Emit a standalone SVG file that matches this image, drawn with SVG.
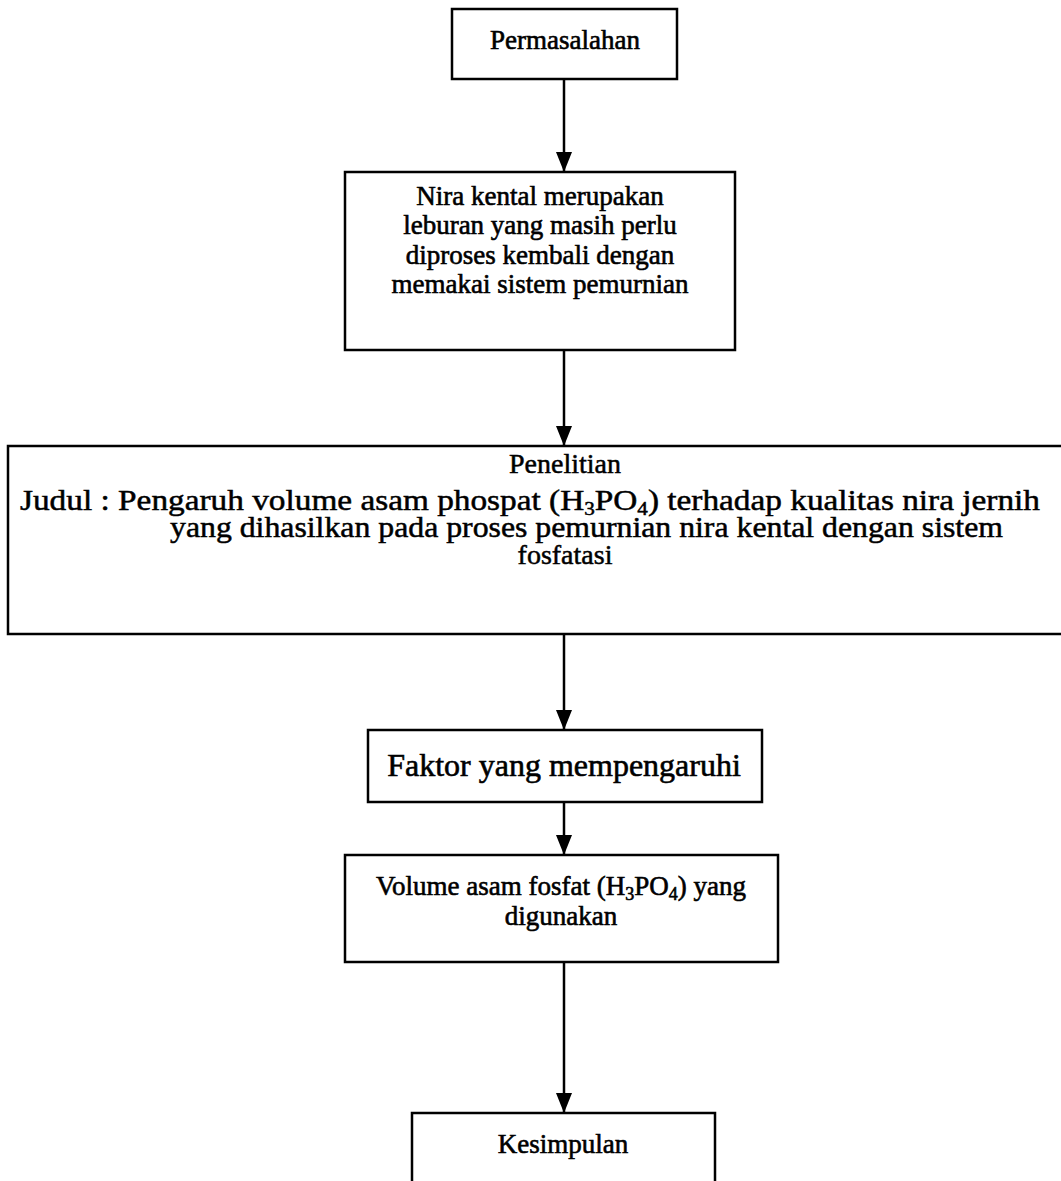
<svg xmlns="http://www.w3.org/2000/svg" width="1061" height="1181" viewBox="0 0 1061 1181">
<style>
.box{fill:#fff;stroke:#000;stroke-width:2.5}
.t{font-family:"Liberation Serif","Times New Roman",serif;font-size:27px;fill:#000;text-anchor:middle;stroke:#000;stroke-width:0.6}
.s{font-family:"Liberation Serif","Times New Roman",serif;font-size:28px;fill:#000;stroke:#000;stroke-width:0.5}
.w{font-size:30px}
.big{font-size:32px}
.sub{font-size:19px}
.c{stroke:#000;stroke-width:2.5;fill:none}
</style>
<defs>
<marker id="ah" markerWidth="20" markerHeight="16" refX="20" refY="8" orient="auto" markerUnits="userSpaceOnUse" viewBox="0 0 20 16">
<path d="M0,0 L20,8 L0,16 Z" fill="#000"/>
</marker>
</defs>
<rect width="1061" height="1181" fill="#fff"/>
<g id="connectors">
<line class="c" x1="564" y1="79" x2="564" y2="172" marker-end="url(#ah)"/>
<line class="c" x1="564" y1="350" x2="564" y2="446" marker-end="url(#ah)"/>
<line class="c" x1="564" y1="634" x2="564" y2="730" marker-end="url(#ah)"/>
<line class="c" x1="564" y1="802" x2="564" y2="855" marker-end="url(#ah)"/>
<line class="c" x1="564" y1="962" x2="564" y2="1113" marker-end="url(#ah)"/>
</g>
<g id="n1">
<rect class="box" x="452" y="9" width="225" height="70"/>
<text class="t" x="565" y="49">Permasalahan</text>
</g>
<g id="n2">
<rect class="box" x="345" y="172" width="390" height="178"/>
<text class="t" x="540" y="205">Nira kental merupakan</text>
<text class="t" x="540" y="234">leburan yang masih perlu</text>
<text class="t" x="540" y="264">diproses kembali dengan</text>
<text class="t" x="540" y="293">memakai sistem pemurnian</text>
</g>
<g id="n3">
<rect class="box" x="8" y="446" width="1070" height="188"/>
<text class="s" x="565" y="473" text-anchor="middle">Penelitian</text>
<text class="s w" x="20" y="510" textLength="1020" lengthAdjust="spacingAndGlyphs">Judul : Pengaruh volume asam phospat (H<tspan class="sub" dy="5">3</tspan><tspan dy="-5">PO</tspan><tspan class="sub" dy="5">4</tspan><tspan dy="-5">) terhadap kualitas nira jernih</tspan></text>
<text class="s w" x="170" y="537" textLength="833" lengthAdjust="spacingAndGlyphs">yang dihasilkan pada proses pemurnian nira kental dengan sistem</text>
<text class="s" x="565" y="564" text-anchor="middle">fosfatasi</text>
</g>
<g id="n4">
<rect class="box" x="368" y="730" width="394" height="72"/>
<text class="t big" x="564" y="776">Faktor yang mempengaruhi</text>
</g>
<g id="n5">
<rect class="box" x="345" y="855" width="433" height="107"/>
<text class="t" x="561" y="895">Volume asam fosfat (H<tspan font-size="18" dy="5">3</tspan><tspan dy="-5">PO</tspan><tspan font-size="18" dy="5">4</tspan><tspan dy="-5">) yang</tspan></text>
<text class="t" x="561" y="925">digunakan</text>
</g>
<g id="n6">
<rect class="box" x="412" y="1113" width="303" height="80"/>
<text class="t" x="563" y="1153">Kesimpulan</text>
</g>
</svg>
